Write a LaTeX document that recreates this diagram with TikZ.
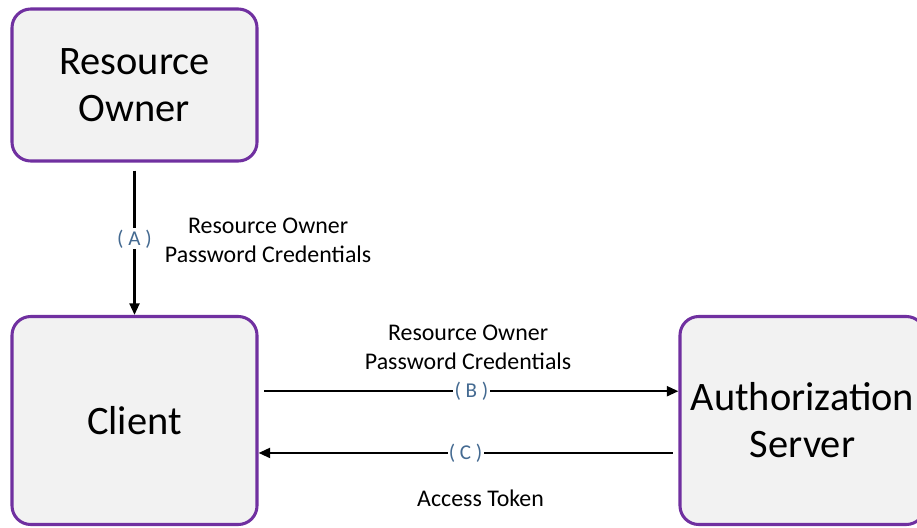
\documentclass[tikz,border=0pt]{standalone}
\usepackage{fontspec}
\setmainfont{Carlito}
\usetikzlibrary{positioning,arrows.meta}
\definecolor{boxpurple}{RGB}{112,48,160}
\definecolor{boxgrey}{RGB}{242,242,242}
\definecolor{tagblue}{RGB}{68,106,145}
\begin{document}
\begin{tikzpicture}[x=0.03cm, y=-0.03cm,
  party/.style={draw=boxpurple, line width=2.6pt, fill=boxgrey, rounded corners=16pt, minimum width=7.35cm, align=center, font=\fontsize{34.5}{40}\selectfont},
  flow/.style={line width=2.1pt, -{Triangle[length=10pt,width=8.5pt]}},
  tag/.style={fill=white, text=tagblue, inner sep=1pt, font=\fontsize{18}{20}\selectfont},
  msg/.style={align=center, font=\fontsize{20.4}{24.75}\selectfont}]
\useasboundingbox (0,0) rectangle (917,527);
\node[party, minimum height=4.56cm] (owner) at (134.5,85) {Resource\\Owner};
\node[party, minimum height=6.24cm] (client) at (134.5,420.5) {Client};
\node[party, minimum height=6.24cm] (authserver) at (802.5,420.5) {Authorization\\Server};

\draw[flow, shorten <=7pt] (owner) -- (client) node[midway, tag] (tagA) {( A )};
\node[msg, right=0.2cm of tagA, yshift=-1.5pt] (credA) {Resource Owner\\Password Credentials};

\draw[flow] ([xshift=5pt, yshift=25pt]client.east) -- ([yshift=25pt]authserver.west) node[midway, tag] (tagB) {( B )};
\node[msg, above=0.18cm of tagB, xshift=-0.1cm] (credB) {Resource Owner\\Password Credentials};

\draw[flow] ([xshift=-5pt, yshift=-27.7pt]authserver.west) -- ([yshift=-27.7pt]client.east) node[midway, tag] (tagC) {( C )};
\node[msg, below=0.65cm of tagC, xshift=0.45cm] (token) {Access Token};
\end{tikzpicture}
\end{document}
